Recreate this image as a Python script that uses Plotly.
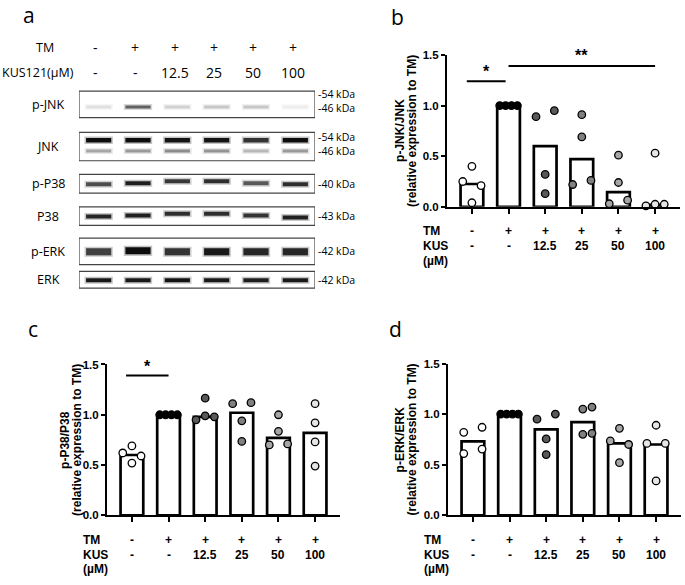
import plotly.graph_objects as go

W, H = 685, 585

# ---------------- data ----------------
GROUPS = ["TM-", "TM", "TM+KUS12.5", "TM+KUS25", "TM+KUS50", "TM+KUS100"]
TM_LABELS = ["-", "+", "+", "+", "+", "+"]
KUS_LABELS = ["-", "-", "12.5", "25", "50", "100"]

# panel b: p-JNK/JNK
JNK_MEANS = [0.225, 1.0, 0.60, 0.47, 0.145, 0.02]
JNK_POINTS = [
    [0.25, 0.40, 0.21, 0.04],
    [1.0, 1.0, 1.0, 1.0],
    [0.89, 0.95, 0.32, 0.13],
    [0.91, 0.69, 0.22, 0.26],
    [0.51, 0.24, 0.03, 0.065],
    [0.53, 0.01, 0.025, 0.025],
]
JNK_OFFS = [
    [-0.25, 0.0, 0.25, 0.0],
    [-0.24, -0.08, 0.08, 0.24],
    [-0.25, 0.25, 0.0, 0.0],
    [0.0, 0.0, -0.25, 0.25],
    [0.0, 0.0, -0.25, 0.25],
    [0.0, -0.25, 0.0, 0.25],
]

# panel c: p-P38/P38
P38_MEANS = [0.60, 1.0, 0.98, 1.02, 0.77, 0.82]
P38_POINTS = [
    [0.62, 0.69, 0.59, 0.52],
    [1.0, 1.0, 1.0, 1.0],
    [0.95, 1.165, 0.99, 0.98],
    [1.11, 1.12, 0.94, 0.735],
    [1.0, 0.835, 0.70, 0.71],
    [1.11, 0.92, 0.73, 0.49],
]
P38_OFFS = [
    [-0.25, 0.0, 0.25, 0.0],
    [-0.24, -0.08, 0.08, 0.24],
    [-0.25, 0.0, 0.0, 0.25],
    [-0.25, 0.25, 0.0, 0.0],
    [0.0, 0.0, -0.25, 0.25],
    [0.0, 0.0, 0.0, 0.0],
]

# panel d: p-ERK/ERK
ERK_MEANS = [0.73, 1.0, 0.85, 0.92, 0.71, 0.70]
ERK_POINTS = [
    [0.82, 0.87, 0.61, 0.655],
    [1.0, 1.0, 1.0, 1.0],
    [0.95, 1.0, 0.755, 0.60],
    [1.05, 1.07, 0.80, 0.81],
    [0.735, 0.86, 0.70, 0.52],
    [0.71, 0.89, 0.71, 0.34],
]
ERK_OFFS = [
    [-0.25, 0.25, -0.25, 0.25],
    [-0.24, -0.08, 0.08, 0.24],
    [-0.25, 0.25, 0.0, 0.0],
    [0.0, 0.25, 0.0, 0.25],
    [-0.25, 0.0, 0.25, 0.0],
    [-0.25, 0.0, 0.25, 0.0],
]

Y_TICKS = [0, 0.5, 1.0, 1.5]
Y_TICKTEXT = ["0.0", "0.5", "1.0", "1.5"]

# panel a: western blot band darkness (0 = none, 1 = black) per lane
BLOT_ROWS = ["p-JNK", "JNK", "p-P38", "P38", "p-ERK", "ERK"]
PJNK_46 = [0.12, 0.62, 0.18, 0.22, 0.22, 0.07]
JNK_54 = [0.95, 0.95, 0.92, 0.92, 0.80, 0.95]
JNK_46 = [0.35, 0.40, 0.45, 0.42, 0.28, 0.40]
PP38 = [0.70, 0.88, 0.78, 0.82, 0.65, 0.82]
P38 = [0.85, 0.87, 0.82, 0.82, 0.80, 0.87]
PERK = [0.75, 0.95, 0.80, 0.90, 0.85, 0.85]
ERK = [0.90, 0.90, 0.92, 0.90, 0.88, 0.90]
KDA = [["-54 kDa", "-46 kDa"], ["-54 kDa", "-46 kDa"], ["-40 kDa"], ["-43 kDa"], ["-42 kDa"], ["-42 kDa"]]

# ---------------- styles / layout helpers ----------------
def fx(px):
    return px / W

def fy(py):
    return 1 - py / H

BAR_FONT = "Liberation Sans, Arial, sans-serif"
BLOT_FONT = "Open Sans, sans-serif"
PT_COLORS = ["white", "black", "#595959", "#808080", "#a6a6a6", "#e6e6e6"]
BOLD = dict(family=BAR_FONT, size=12, color="black", weight="bold")

fig = go.Figure()
annotations = []
shapes = []

panels = [
    ("x", "y", JNK_MEANS, JNK_POINTS, JNK_OFFS, (447, 680), (50, 205), "p-JNK/JNK", (400, 412)),
    ("x2", "y2", P38_MEANS, P38_POINTS, P38_OFFS, (107, 340), (366, 520), "p-P38/P38", (65, 77)),
    ("x3", "y3", ERK_MEANS, ERK_POINTS, ERK_OFFS, (448, 681), (365, 520), "p-ERK/ERK", (400, 412)),
]

axis_layout = {}
for i, (xa, ya, means, pts, offs, xd, yd, title, tx) in enumerate(panels):
    fig.add_trace(go.Bar(
        x=list(range(len(GROUPS))), y=means, width=0.62,
        marker=dict(color="white", line=dict(color="black", width=2.7)),
        xaxis=xa, yaxis=ya, showlegend=False, hoverinfo="skip"))
    for g in range(len(GROUPS)):
        fig.add_trace(go.Scatter(
            x=[g + o for o in offs[g]], y=pts[g], mode="markers",
            marker=dict(color=PT_COLORS[g], size=7.5, line=dict(color="black", width=1.3)),
            xaxis=xa, yaxis=ya, showlegend=False, hoverinfo="skip", cliponaxis=False))
    xname = "xaxis" if xa == "x" else "xaxis" + xa[1:]
    yname = "yaxis" if ya == "y" else "yaxis" + ya[1:]
    axis_layout[xname] = dict(
        domain=[fx(xd[0]), fx(xd[1])], range=[-0.68, 5.68], anchor=ya,
        showline=True, linewidth=2, linecolor="black", ticks="outside", ticklen=5,
        tickwidth=2, tickcolor="black", tickvals=list(range(6)), showticklabels=False,
        showgrid=False, zeroline=False, fixedrange=True)
    axis_layout[yname] = dict(
        domain=[fy(yd[1]), fy(yd[0])], range=[0, 1.5], anchor=xa,
        showline=True, linewidth=2, linecolor="black", ticks="outside", ticklen=4,
        tickwidth=2, tickcolor="black", tickvals=Y_TICKS, ticktext=Y_TICKTEXT,
        tickfont=dict(family=BAR_FONT, size=11.5, color="black", weight="bold"),
        ticklabelstandoff=0, showgrid=False, zeroline=False, fixedrange=True)
    # y titles, placed in the full-figure pixel helper axis (x5/y5)
    ymid = (yd[0] + yd[1]) / 2
    for txt, xx in zip([title, "(relative expression to TM)"], tx):
        annotations.append(dict(text=txt, x=xx, y=ymid, xref="x5", yref="y5",
                                textangle=-90, showarrow=False, xanchor="center",
                                yanchor="middle", font=BOLD))
    # bottom condition table
    row_y = [yd[1] + 25, yd[1] + 40, yd[1] + 55]
    lab_x = xd[0] - 26
    for txt, ry in zip(["TM", "KUS", "(µM)"], row_y):
        annotations.append(dict(text=txt, x=fx(lab_x), y=fy(ry), xref="paper", yref="paper",
                                showarrow=False, xanchor="left", yanchor="middle", font=BOLD))
    for g in range(len(GROUPS)):
        for txt, ry in zip([TM_LABELS[g], KUS_LABELS[g]], row_y[:2]):
            annotations.append(dict(text=txt, x=g, y=fy(ry), xref=xa, yref="paper",
                                    showarrow=False, xanchor="center", yanchor="middle", font=BOLD))

# significance marks
def sig(xa, ya, x0, x1, yv, label, ytxt_px):
    shapes.append(dict(type="line", xref=xa, yref=ya, x0=x0, x1=x1, y0=yv, y1=yv,
                       line=dict(color="black", width=2)))
    annotations.append(dict(text=label, x=(x0 + x1) / 2, y=fy(ytxt_px), xref=xa, yref="paper",
                            showarrow=False, xanchor="center", yanchor="middle",
                            font=dict(family=BAR_FONT, size=16, color="black", weight="bold")))

sig("x", "y", -0.14, 0.92, 1.24, "*", 67)
sig("x", "y", 1.0, 5.0, 1.39, "**", 51)
sig("x2", "y2", -0.16, 1.0, 1.39, "*", 368)

# panel letters
for lt, px, py in [("a", 29, 9), ("b", 397, 11), ("c", 33, 330), ("d", 395, 330)]:
    annotations.append(dict(text=lt, x=fx(px), y=fy(py), xref="paper", yref="paper",
                            showarrow=False, xanchor="center", yanchor="middle",
                            font=dict(family=BLOT_FONT, size=21, color="black")))

# ---------------- western blot (panel a) ----------------
BOX_TOP = [87, 129, 172, 205, 237, 271]
BOX_BOT = [114, 158, 191, 224, 264, 288]
bands = [
    (PJNK_46, 103, 3.0, [0, 0, 0, 0, 0, 0]),
    (JNK_54, 137, 4.5, [0, 0, 0, 0, 0, 0]),
    (JNK_46, 148, 3.0, [0, 0, 0, 0, 0, 0]),
    (PP38, 181, 4.0, [1, 0, -2, -2, 0, 1]),
    (P38, 214, 4.0, [1, 0, -2, -2, 0, 2]),
    (PERK, 251, 7.0, [0, -1, 0, 0, 0, 0]),
    (ERK, 280, 4.0, [0, 0, 0, 0, 0, 0]),
]

def gray(v, alpha=1.0):
    c = int(round(255 * (1 - v)))
    return f"rgba({c},{c},{c},{alpha})"

for vals, by, bw, dys in bands:
    for lane, v in enumerate(vals):
        yy = by + dys[lane]
        fig.add_trace(go.Scatter(x=[lane - 0.36, lane + 0.36], y=[yy, yy], mode="lines",
                                 line=dict(color=gray(v * 0.5, 0.5), width=bw + 3),
                                 xaxis="x4", yaxis="y4", showlegend=False, hoverinfo="skip"))
        fig.add_trace(go.Scatter(x=[lane - 0.32, lane + 0.32], y=[yy, yy], mode="lines",
                                 line=dict(color=gray(v), width=bw),
                                 xaxis="x4", yaxis="y4", showlegend=False, hoverinfo="skip"))

for t, b in zip(BOX_TOP, BOX_BOT):
    shapes.append(dict(type="rect", xref="x4", yref="y4", x0=-0.5, x1=5.5, y0=t, y1=b,
                       line=dict(color="#444", width=1.2), fillcolor="rgba(0,0,0,0)"))

axis_layout["xaxis4"] = dict(domain=[fx(79), fx(315)], range=[-0.5, 5.5], anchor="y4",
                             visible=False, fixedrange=True)
axis_layout["yaxis4"] = dict(domain=[fy(295), fy(80)], range=[295, 80], anchor="x4",
                             visible=False, fixedrange=True)
# full-figure helper axis in pixel units (for rotated titles)
axis_layout["xaxis5"] = dict(domain=[0, 1], range=[0, W], anchor="y5", visible=False,
                             fixedrange=True)
axis_layout["yaxis5"] = dict(domain=[0, 1], range=[H, 0], anchor="x5", visible=False,
                             fixedrange=True)

# blot row labels
for name, t, b in zip(BLOT_ROWS, BOX_TOP, BOX_BOT):
    annotations.append(dict(text=name, x=fx(48), y=fy((t + b) / 2), xref="paper", yref="paper",
                            showarrow=False, xanchor="center", yanchor="middle",
                            font=dict(family=BLOT_FONT, size=12.5, color="black")))
# kDa labels
kda_y = [[89.5, 104], [133.5, 148], [181.5], [214.5], [250.5], [279.5]]
for labs, ys in zip(KDA, kda_y):
    for lab, yy in zip(labs, ys):
        annotations.append(dict(text=lab, x=fx(316), y=fy(yy), xref="paper", yref="paper",
                                showarrow=False, xanchor="left", yanchor="middle",
                                font=dict(family=BLOT_FONT, size=10.5, color="black")))
# header
annotations.append(dict(text="TM", x=fx(45), y=fy(42), xref="paper", yref="paper",
                        showarrow=False, xanchor="center", yanchor="middle",
                        font=dict(family=BLOT_FONT, size=12.5, color="black")))
annotations.append(dict(text="KUS121(μM)", x=fx(0), y=fy(68), xref="paper", yref="paper",
                        showarrow=False, xanchor="left", yanchor="middle",
                        font=dict(family=BLOT_FONT, size=12.5, color="black")))
for g in range(len(GROUPS)):
    annotations.append(dict(text=TM_LABELS[g], x=g - 0.07, y=fy(42), xref="x4", yref="paper",
                            showarrow=False, xanchor="center", yanchor="middle",
                            font=dict(family=BLOT_FONT, size=14, color="black")))
    annotations.append(dict(text=KUS_LABELS[g], x=g - 0.07, y=fy(68), xref="x4", yref="paper",
                            showarrow=False, xanchor="center", yanchor="middle",
                            font=dict(family=BLOT_FONT, size=14, color="black")))

fig.update_layout(
    width=W, height=H, margin=dict(l=0, r=0, t=0, b=0),
    paper_bgcolor="white", plot_bgcolor="rgba(0,0,0,0)",
    annotations=annotations, shapes=shapes,
    **axis_layout,
)

POST = (
    "document.body.style.margin='0';"
    "document.documentElement.style.overflow='hidden';"
    "document.body.style.overflow='hidden';"
    "var gd=document.getElementById('{plot_id}');"
    "gd.style.position='fixed';gd.style.top='0px';gd.style.left='0px';"
)
fig.write_html("out.html", config={"displayModeBar": False}, post_script=POST)
